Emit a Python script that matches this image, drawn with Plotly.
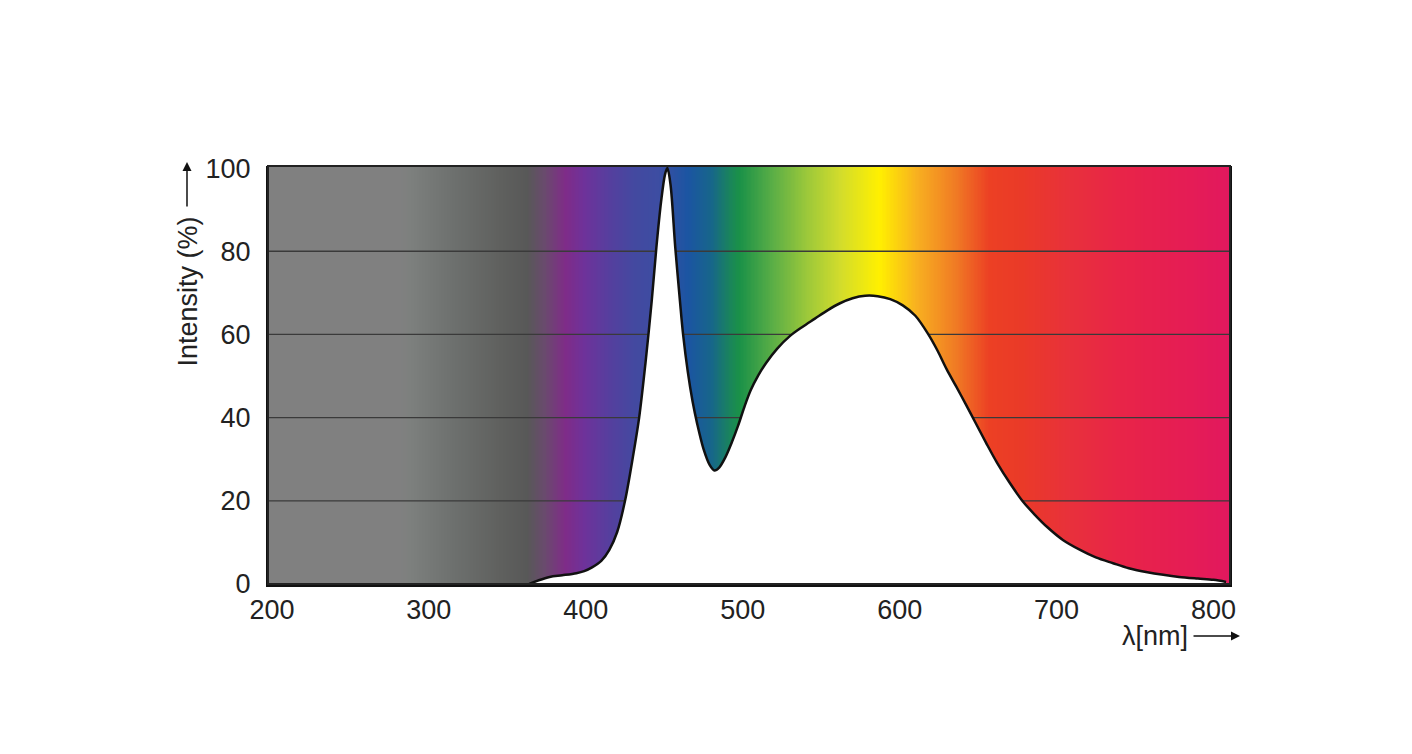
import numpy as np
import plotly.graph_objects as go

# ---- data -------------------------------------------------------------
wavelength_nm = [364, 370, 377, 385, 394, 399, 404, 410, 415, 420, 425, 430, 434,
                 438, 442, 445, 448, 450.5, 452, 454, 457, 460, 462, 465, 468, 471,
                 475, 479, 482, 485, 489, 493, 497, 501, 505, 510, 515, 522, 530,
                 538, 546, 554, 562, 570, 578, 586, 594, 602, 610, 618, 624,
                 630, 636, 642, 648, 655, 662, 670, 678, 686, 694, 704, 715, 725,
                 736, 746, 757, 768, 778, 790, 800, 808]
intensity_pct = [0, 0.9, 1.7, 2.1, 2.6, 3.1, 4.0, 5.6, 8.2, 12.5, 20, 30.5, 40,
                 53, 68, 81, 92, 98.5, 100, 96, 81, 68, 60, 51, 44, 38.5,
                 32.5, 28.6, 27.3, 28.0, 30.5, 34, 38, 42.5, 46.5, 50.2, 53.2, 56.6, 59.6,
                 61.8, 63.8, 65.8, 67.5, 68.7, 69.3, 69.2, 68.5, 67.0, 64.5, 60.2, 56.2,
                 51.6, 47.5, 43.3, 39, 34, 29.2, 24.4, 20.1, 16.7, 13.7, 10.6, 8.2, 6.4,
                 5, 3.8, 2.9, 2.2, 1.7, 1.3, 1.0, 0.5]

x_ticks = [200, 300, 400, 500, 600, 700, 800]
y_ticks = [0, 20, 40, 60, 80, 100]
grid_values = [20, 40, 60, 80]

# background spectrum colour stops (wavelength -> colour)
spectrum_nm = [197.5, 282, 288, 314, 346, 363, 374, 387, 399, 414, 431, 446, 465,
               480, 495, 498, 519, 541, 562, 587, 611, 636, 657, 678, 710, 742,
               774, 810.5]
spectrum_colors = ["#808080", "#808080", "#7d807e", "#6e716f", "#5f605e", "#585858",
                   "#6a4a6e", "#7f2c88", "#6e329a", "#573e9e", "#4349a0", "#3d4da2",
                   "#1b55a2", "#17668a", "#1a8c50", "#1a9148", "#5aae46", "#9cc83a",
                   "#d2dc2c", "#fff000", "#f8b020", "#f07a24", "#ec4024", "#ea3a28",
                   "#e8303c", "#e82448", "#e61e52", "#e2185e"]

x_range = [197.5, 810.5]
y_range = [0, 100.5]

# ---- figure -----------------------------------------------------------
lo, hi = spectrum_nm[0], spectrum_nm[-1]
colorscale = [[(w - lo) / (hi - lo), c] for w, c in zip(spectrum_nm, spectrum_colors)]

edges = np.linspace(x_range[0], x_range[1], 700)
centers = (edges[:-1] + edges[1:]) / 2

fig = go.Figure()
fig.add_trace(go.Heatmap(
    x=edges, y=y_range, z=[centers],
    colorscale=colorscale, zmin=lo, zmax=hi,
    showscale=False, hoverinfo="skip", zsmooth=False,
))

for g in grid_values:
    fig.add_trace(go.Scatter(
        x=x_range, y=[g, g], mode="lines",
        line=dict(color="#3a3a3a", width=1.3),
        hoverinfo="skip", showlegend=False,
    ))

fig.add_trace(go.Scatter(
    x=wavelength_nm, y=intensity_pct, mode="lines",
    line=dict(color="#111111", width=2.5, shape="spline", smoothing=0.9),
    fill="tozeroy", fillcolor="white", showlegend=False,
))

font_family = "Arial, Liberation Sans, sans-serif"
fs = 27

fig.update_layout(
    width=1412, height=754,
    margin=dict(l=268, r=182, t=166, b=170),
    paper_bgcolor="white", plot_bgcolor="white",
    showlegend=False,
    font=dict(family=font_family, size=fs, color="#222222"),
    xaxis=dict(range=x_range, tickvals=x_ticks, showgrid=False, zeroline=False,
               showline=True, linecolor="#111111", linewidth=3,
               ticks="", ticklabelstandoff=0),
    yaxis=dict(range=y_range, tickvals=y_ticks, showgrid=False, zeroline=False,
               showline=True, linecolor="#111111", linewidth=2, mirror=True,
               ticks="", ticklabelstandoff=10),
    shapes=[dict(type="rect", xref="paper", yref="paper", x0=0, x1=1, y0=0, y1=1,
                 line=dict(color="#222222", width=2), layer="above")],
    annotations=[
        dict(text="Intensity (%)", xref="paper", yref="paper", x=-0.083, y=0.70,
             textangle=-90, showarrow=False, xanchor="center", yanchor="middle",
             font=dict(family=font_family, size=fs, color="#222222")),
        dict(text="", xref="paper", yref="paper", x=-0.0842, y=1.0096,
             showarrow=True, ax=0, ay=46, arrowhead=2, arrowsize=1.2,
             arrowwidth=1.5, arrowcolor="#111111"),
        dict(text="λ[nm]", xref="paper", yref="paper", x=0.958, y=-0.1244,
             showarrow=False, xanchor="right", yanchor="middle",
             font=dict(family=font_family, size=fs, color="#222222")),
        dict(text="", xref="paper", yref="paper", x=1.0104, y=-0.1244,
             showarrow=True, ax=-48, ay=0, arrowhead=2, arrowsize=1.2,
             arrowwidth=1.5, arrowcolor="#111111"),
    ],
)

fig.write_html("out.html")
